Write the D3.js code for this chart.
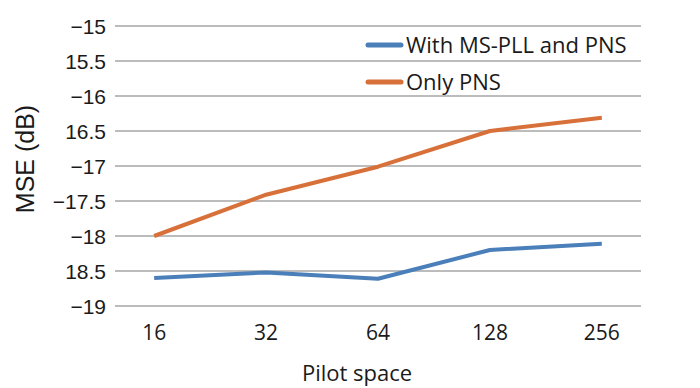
<!DOCTYPE html>
<html>
<head>
<meta charset="utf-8">
<script src="https://cdn.jsdelivr.net/npm/d3@7"></script>
<style>
  body { margin: 0; background: #fff; }
  .grid line { stroke: #a6a6a6; stroke-width: 1.5; }
</style>
</head>
<body>
<div id="graphic"></div>
<script>
// pilot spacing on the x axis
var categories = ["16", "32", "64", "128", "256"];
// MSE values (dB)
var withPll = [-18.6, -18.52, -18.61, -18.2, -18.11];
var onlyPns = [-18.0, -17.41, -17.01, -16.5, -16.31];
var seriesNames = ["With MS-PLL and PNS", "Only PNS"];
var yTicks = [-15, -15.5, -16, -16.5, -17, -17.5, -18, -18.5, -19];
// labels as printed in the figure (some minus signs are missing there)
var yTickLabels = ["\u221215", "15.5", "\u221216", "16.5", "\u221217", "\u221217.5", "\u221218", "18.5", "\u221219"];

var colors = ["#4a7fb9", "#d8703a"];

var width = 700, height = 388;
var svg = d3.select("#graphic").append("svg")
  .attr("width", width)
  .attr("height", height);

// plot area
var plotLeft = 115, plotRight = 641, plotTop = 26, plotBottom = 306;

var x = d3.scalePoint()
  .domain(categories)
  .range([plotLeft, plotRight])
  .padding(0.35);

var y = d3.scaleLinear()
  .domain([-19, -15])
  .range([plotBottom, plotTop]);

// gridlines
svg.append("g")
  .attr("class", "grid")
  .selectAll("line")
  .data(yTicks)
  .enter().append("line")
  .attr("x1", plotLeft)
  .attr("x2", plotRight)
  .attr("y1", function(d) { return y(d); })
  .attr("y2", function(d) { return y(d); });

// y tick labels
svg.append("g")
  .selectAll("text")
  .data(yTicks)
  .enter().append("text")
  .attr("x", plotLeft - 9)
  .attr("y", function(d) { return y(d); })
  .attr("dy", "0.36em")
  .attr("text-anchor", "end")
  .style("font-family", "Liberation Sans, Arial, sans-serif")
  .style("font-size", "21px")
  .style("fill", "#1a1a1a")
  .text(function(d, i) { return yTickLabels[i]; });

// x tick labels
svg.append("g")
  .selectAll("text")
  .data(categories)
  .enter().append("text")
  .attr("x", function(d) { return x(d); })
  .attr("y", 332)
  .attr("dy", "0.36em")
  .attr("text-anchor", "middle")
  .style("font-family", "Open Sans, sans-serif")
  .style("font-size", "21px")
  .style("fill", "#1a1a1a")
  .text(function(d) { return d; });

// axis titles
svg.append("text")
  .attr("x", 357)
  .attr("y", 373)
  .attr("dy", "0.36em")
  .attr("text-anchor", "middle")
  .style("font-family", "Open Sans, sans-serif")
  .style("font-size", "22px")
  .style("fill", "#1a1a1a")
  .text("Pilot space");

svg.append("text")
  .attr("transform", "translate(25,159) rotate(-90)")
  .attr("dy", "0.36em")
  .attr("text-anchor", "middle")
  .style("font-family", "Liberation Sans, Arial, sans-serif")
  .style("font-size", "25px")
  .style("fill", "#1a1a1a")
  .text("MSE (dB)");

// lines
var line = d3.line()
  .x(function(d, i) { return x(categories[i]); })
  .y(function(d) { return y(d); });

[withPll, onlyPns].forEach(function(s, i) {
  svg.append("path")
    .datum(s)
    .attr("fill", "none")
    .attr("stroke", colors[i])
    .attr("stroke-width", 4)
    .attr("stroke-linejoin", "round")
    .attr("d", line);
});

// legend
var legend = svg.append("g");
seriesNames.forEach(function(name, i) {
  var ly = 45 + i * 37;
  legend.append("line")
    .attr("x1", 368).attr("x2", 401)
    .attr("y1", ly).attr("y2", ly)
    .attr("stroke", colors[i])
    .attr("stroke-width", 5)
    .attr("stroke-linecap", "round");
  legend.append("text")
    .attr("x", 406)
    .attr("y", ly)
    .attr("dy", "0.36em")
    .style("font-family", "Open Sans, sans-serif")
    .style("font-size", "22px")
    .style("fill", "#1a1a1a")
    .text(name);
});
</script>
</body>
</html>
